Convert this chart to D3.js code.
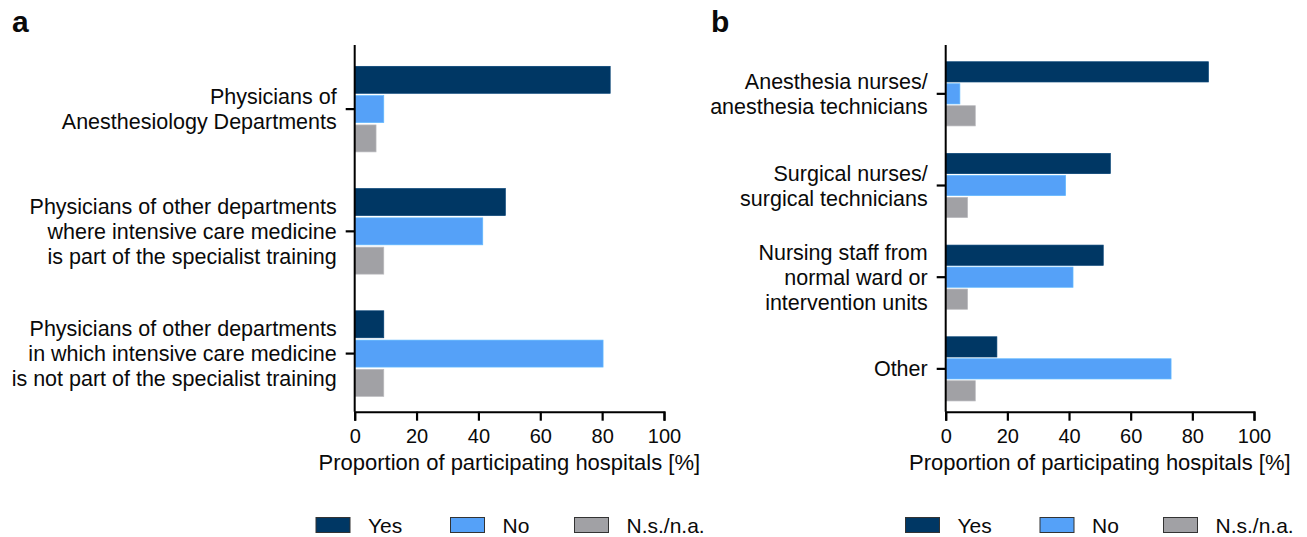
<!DOCTYPE html>
<html>
<head>
<meta charset="utf-8">
<script src="https://cdn.jsdelivr.net/npm/d3@7"></script>
<style>
  body { margin: 0; background: #fff; }
  svg text { font-family: "Liberation Sans", Arial, sans-serif; fill: #0a0a0a; }
</style>
</head>
<body>
<div id="wrapper"></div>
<script>
// data
const seriesNames = ["Yes", "No", "N.s./n.a."];
const seriesColors = ["#003764", "#55a1f8", "#a1a1a5"];
const xTicks = [0, 20, 40, 60, 80, 100];

const categoriesA = [
  ["Physicians of", "Anesthesiology Departments"],
  ["Physicians of other departments", "where intensive care medicine", "is part of the specialist training"],
  ["Physicians of other departments", "in which intensive care medicine", "is not part of the specialist training"]
];
const yesA = [82.6, 48.7, 9.4];
const noA  = [9.4, 41.4, 80.3];
const nsA  = [6.9, 9.4, 9.4];

const categoriesB = [
  ["Anesthesia nurses/", "anesthesia technicians"],
  ["Surgical nurses/", "surgical technicians"],
  ["Nursing staff from", "normal ward or", "intervention units"],
  ["Other"]
];
const yesB = [85.2, 53.4, 51.1, 16.6];
const noB  = [4.6, 38.9, 41.3, 73.1];
const nsB  = [9.6, 7.1, 7.1, 9.6];

const svg = d3.select("#wrapper").append("svg")
  .attr("width", 1307).attr("height", 537);

function drawPanel(p) {
  const g = svg.append("g");
  const top = 45, bottom = 411.7;

  const x = d3.scaleLinear().domain([0, 100]).range([p.x0, p.x1]);
  const y = d3.scaleBand()
    .domain(d3.range(p.categories.length))
    .range([top + 3, bottom + 3])
    .paddingInner(0.3).paddingOuter(0.15);
  const ySub = d3.scaleBand()
    .domain(d3.range(seriesNames.length))
    .range([0, y.bandwidth()])
    .paddingInner(0.08);

  const series = [p.yes, p.no, p.ns];

  // bars
  series.forEach((vals, s) => {
    g.append("g").selectAll("rect")
      .data(vals)
      .join("rect")
      .attr("x", x(0))
      .attr("y", (d, i) => y(i) + ySub(s))
      .attr("width", d => x(d) - x(0))
      .attr("height", ySub.bandwidth())
      .attr("fill", seriesColors[s])
      .attr("stroke", d3.color(seriesColors[s]).brighter(0.4))
      .attr("stroke-width", 0.7);
  });

  // y axis
  g.append("line")
    .attr("x1", x(0)).attr("x2", x(0))
    .attr("y1", top).attr("y2", bottom)
    .attr("stroke", "#000").attr("stroke-width", 2);

  const yAxis = g.append("g")
    .attr("transform", `translate(${x(0)},0)`)
    .call(d3.axisLeft(y).tickSize(9).tickSizeOuter(0).tickFormat(""));
  yAxis.select(".domain").remove();
  yAxis.selectAll(".tick line").attr("stroke", "#000").attr("stroke-width", 2.2);

  // category labels
  p.categories.forEach((lines, i) => {
    const cy = y(i) + y.bandwidth() / 2;
    const first = cy - (lines.length - 1) / 2 * 25 + 7.5;
    const t = g.append("text")
      .attr("text-anchor", "end")
      .attr("font-size", 21.5);
    lines.forEach((ln, j) => {
      t.append("tspan")
        .attr("x", x(0) - 18)
        .attr("y", first + j * 25)
        .text(ln);
    });
  });

  // x axis
  const xAxis = g.append("g")
    .attr("transform", `translate(0,${bottom})`)
    .call(d3.axisBottom(x).tickValues(xTicks).tickSize(9).tickSizeOuter(9).tickPadding(8));
  xAxis.select(".domain").attr("stroke", "#000").attr("stroke-width", 2);
  xAxis.selectAll(".tick line").attr("stroke", "#000").attr("stroke-width", 2.2);
  xAxis.selectAll(".tick text")
    .attr("font-size", 20)
    .attr("font-family", "Liberation Sans, Arial, sans-serif")
    .attr("fill", "#0a0a0a");

  g.append("text")
    .attr("x", (x(0) + x(100)) / 2)
    .attr("y", 470)
    .attr("text-anchor", "middle")
    .attr("font-size", 22)
    .text("Proportion of participating hospitals [%]");

  // panel letter
  g.append("text")
    .attr("x", p.letterX).attr("y", 32)
    .attr("font-size", 30).attr("font-weight", "bold")
    .attr("fill", "#000")
    .text(p.letter);

  // legend
  const leg = g.append("g");
  seriesNames.forEach((name, s) => {
    const lx = p.legendX[s];
    leg.append("rect")
      .attr("x", lx).attr("y", 517.5)
      .attr("width", 34).attr("height", 15)
      .attr("fill", seriesColors[s])
      .attr("stroke", "#333").attr("stroke-width", 1);
    leg.append("text")
      .attr("x", lx + 52).attr("y", 532.5)
      .attr("font-size", 21)
      .text(name);
  });
}

drawPanel({
  letter: "a", letterX: 12,
  x0: 354.7, x1: 664,
  categories: categoriesA, yes: yesA, no: noA, ns: nsA,
  legendX: [316, 450.5, 574.5]
});

drawPanel({
  letter: "b", letterX: 711,
  x0: 945.7, x1: 1254,
  categories: categoriesB, yes: yesB, no: noB, ns: nsB,
  legendX: [905.5, 1040, 1163.5]
});
</script>
</body>
</html>
